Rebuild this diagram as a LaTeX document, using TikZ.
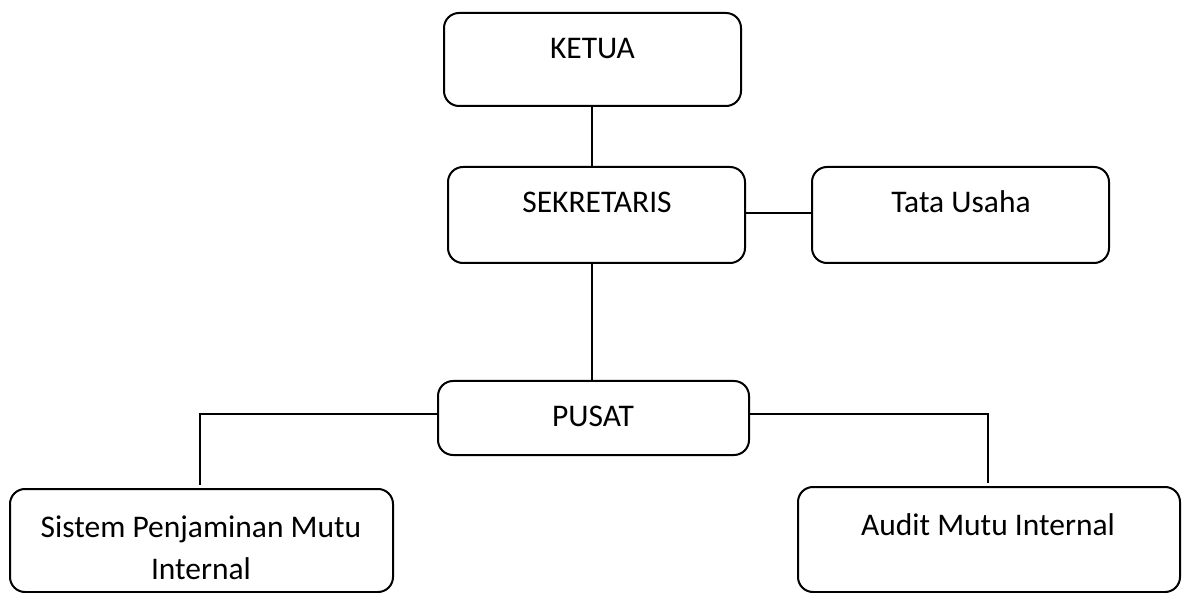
\documentclass[tikz,border=0pt]{standalone}
\usepackage{fontspec}
\setmainfont{Carlito}
\begin{document}
\begin{tikzpicture}[x=1pt,y=-1pt,
  box/.style={draw=black, line width=2pt, rounded corners=15pt, inner sep=0pt},
  lbl/.style={anchor=base, inner sep=0pt, font=\fontsize{31.5}{43}\selectfont, align=center},
  conn/.style={draw=black, line width=1.8pt}]
\useasboundingbox (0,0) rectangle (1186,593);
% boxes
\node[box, minimum width=297pt, minimum height=93pt] (k) at (592.5,59.5) {};
\node[box, minimum width=297pt, minimum height=96pt] (s) at (596.5,215) {};
\node[box, minimum width=297pt, minimum height=96pt] (t) at (960.5,215) {};
\node[box, minimum width=311pt, minimum height=74pt] (p) at (593.5,418) {};
\node[box, minimum width=383pt, minimum height=103pt] (spmi) at (201.5,540.5) {};
\node[box, minimum width=382pt, minimum height=105pt] (a) at (989,539.5) {};
% labels
\node[lbl] (kl) at (592.5,59) {KETUA};
\node[lbl] (sl) at (597,213) {SEKRETARIS};
\node[lbl] (tl) at (961,213) {Tata Usaha};
\node[lbl] (pl) at (593,427) {PUSAT};
\node[lbl] (spmil1) at (201,537) {Sistem Penjaminan Mutu};
\node[lbl] (spmil2) at (201,579) {Internal};
\node[lbl] (al) at (988,535) {Audit Mutu Internal};
% connectors
\coordinate (lend) at (200,485);
\coordinate (rend) at (988,483);
\draw[conn] (k.south -| 592,0) -- (s.north -| 592,0);
\draw[conn] (s.south -| 592,0) -- (p.north -| 592,0);
\draw[conn] ([yshift=2pt]s.east) -- ([yshift=2pt]t.west);
\draw[conn] ([yshift=4pt]p.west) -| (lend);
\draw[conn] ([yshift=4pt]p.east) -| (rend);
\end{tikzpicture}
\end{document}
